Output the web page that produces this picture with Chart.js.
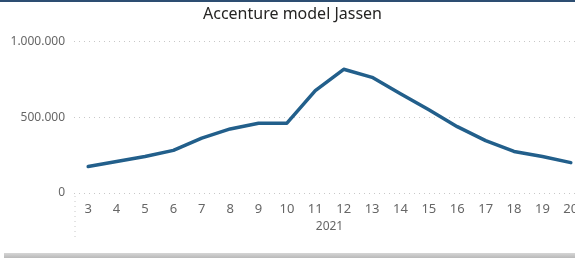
<!DOCTYPE html>
<html lang="nl">
  <head>
    <meta charset="utf-8" />
    <title>Accenture model Jassen</title>
    <script src="https://cdn.jsdelivr.net/npm/chart.js/dist/chart.umd.min.js"></script>
    <style>
      * {
        margin: 0;
        padding: 0;
      }
      body {
        background: #fff;
        overflow: hidden;
      }
      .frame {
        position: relative;
        width: 575px;
        height: 258px;
        overflow: hidden;
        background: #fff;
      }
      .topBar {
        position: absolute;
        left: 0;
        top: 0;
        width: 575px;
        height: 2px;
        background: #2d4e72;
      }
      .bottomBar {
        position: absolute;
        left: 4px;
        top: 253px;
        width: 571px;
        height: 5px;
        background: linear-gradient(#d6d6d6, #b9b9b9);
      }
      .chartBox {
        position: absolute;
        left: 0;
        top: 2px;
        width: 585px;
        height: 250px;
      }
    </style>
  </head>
  <body>
    <div class="frame">
      <div class="topBar"></div>
      <div class="chartBox"><canvas id="myChart"></canvas></div>
      <div class="bottomBar"></div>
    </div>

    <script>
      const weeks = ["3", "4", "5", "6", "7", "8", "9", "10", "11", "12", "13", "14", "15", "16", "17", "18", "19", "20"];
      const values = [174000, 207000, 240000, 281000, 362000, 422000, 460000, 460000, 675000, 815000, 762000, 654000, 548000, 437000, 345000, 274000, 240000, 200000];
      const yearLabel = "2021";
      const yTicks = [0, 500000, 1000000];

      const fmt = (v) => v.toString().replace(/\B(?=(\d{3})+(?!\d))/g, ".");

      // dotted separator under the first category, like the Power BI axis
      const separatorPlugin = {
        id: "separator",
        afterDraw(chart) {
          const ctx = chart.ctx;
          const x = chart.chartArea.left + 1;
          ctx.save();
          ctx.strokeStyle = "#c8c8c8";
          ctx.lineWidth = 1;
          ctx.setLineDash([1, 4]);
          ctx.beginPath();
          ctx.moveTo(x, chart.chartArea.bottom + 3);
          ctx.lineTo(x, chart.chartArea.bottom + 47);
          ctx.stroke();
          ctx.restore();
        },
      };

      const config = {
        type: "line",
        data: {
          labels: weeks,
          datasets: [
            {
              data: values,
              borderColor: "#225f8b",
              borderWidth: 3.5,
              pointRadius: 0,
              tension: 0,
              borderJoinStyle: "round",
              borderCapStyle: "round",
            },
          ],
        },
        options: {
          responsive: true,
          maintainAspectRatio: false,
          animation: false,
          layout: { padding: { top: 0, bottom: 18, left: 0, right: 0 } },
          plugins: {
            legend: { display: false },
            tooltip: { enabled: false },
            title: {
              display: true,
              text: "Accenture model Jassen",
              color: "#252423",
              font: { family: "Noto Sans", size: 16, weight: "normal" },
              padding: { top: 3, bottom: 17 },
            },
          },
          scales: {
            x: {
              offset: true,
              grid: { display: false },
              border: { display: false },
              ticks: {
                color: "#666",
                font: { family: "Noto Sans", size: 13 },
                maxRotation: 0,
                autoSkip: false,
                padding: 0,
              },
              title: {
                display: true,
                text: yearLabel,
                color: "#666",
                font: { family: "Noto Sans", size: 12 },
                padding: { top: 3, bottom: 0 },
              },
            },
            y: {
              min: 0,
              max: 1000000,
              afterBuildTicks(scale) {
                scale.ticks = yTicks.map((v) => ({ value: v }));
              },
              afterFit(scale) {
                scale.width = 74;
              },
              grid: {
                color: "#c8c8c8",
                lineWidth: 1,
                drawTicks: false,
              },
              border: { display: false, dash: [1, 4] },
              ticks: {
                color: "#666",
                font: { family: "Noto Sans", size: 12 },
                padding: 9,
                callback: (v) => fmt(v),
              },
            },
          },
        },
        plugins: [separatorPlugin],
      };

      new Chart(document.getElementById("myChart"), config);
    </script>
  </body>
</html>
